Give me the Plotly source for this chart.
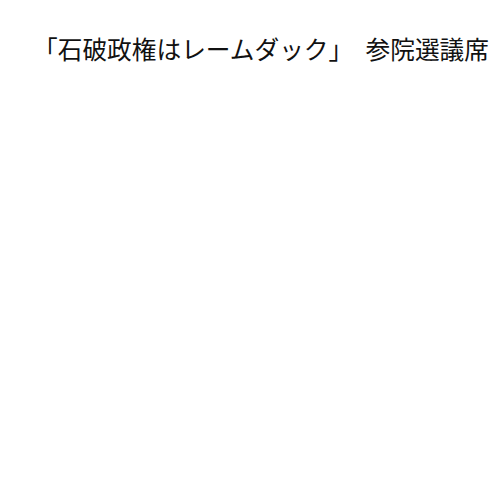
import plotly.graph_objects as go

# Title text of the chart (the plot area itself is empty in the reference)
title_text = "「石破政権はレームダック」　参院選議席"

fig = go.Figure()

fig.update_layout(
    width=500,
    height=500,
    title=dict(
        text=title_text,
        x=0.05,
        xref="container",
        xanchor="left",
        y=0.916,
        yref="container",
        yanchor="middle",
        font=dict(family="Noto Sans CJK JP", size=24.7, color="#111111"),
    ),
    paper_bgcolor="white",
    plot_bgcolor="white",
    xaxis=dict(visible=False),
    yaxis=dict(visible=False),
    showlegend=False,
    margin=dict(l=40, r=20, t=100, b=40),
)

fig.write_html("out.html")
